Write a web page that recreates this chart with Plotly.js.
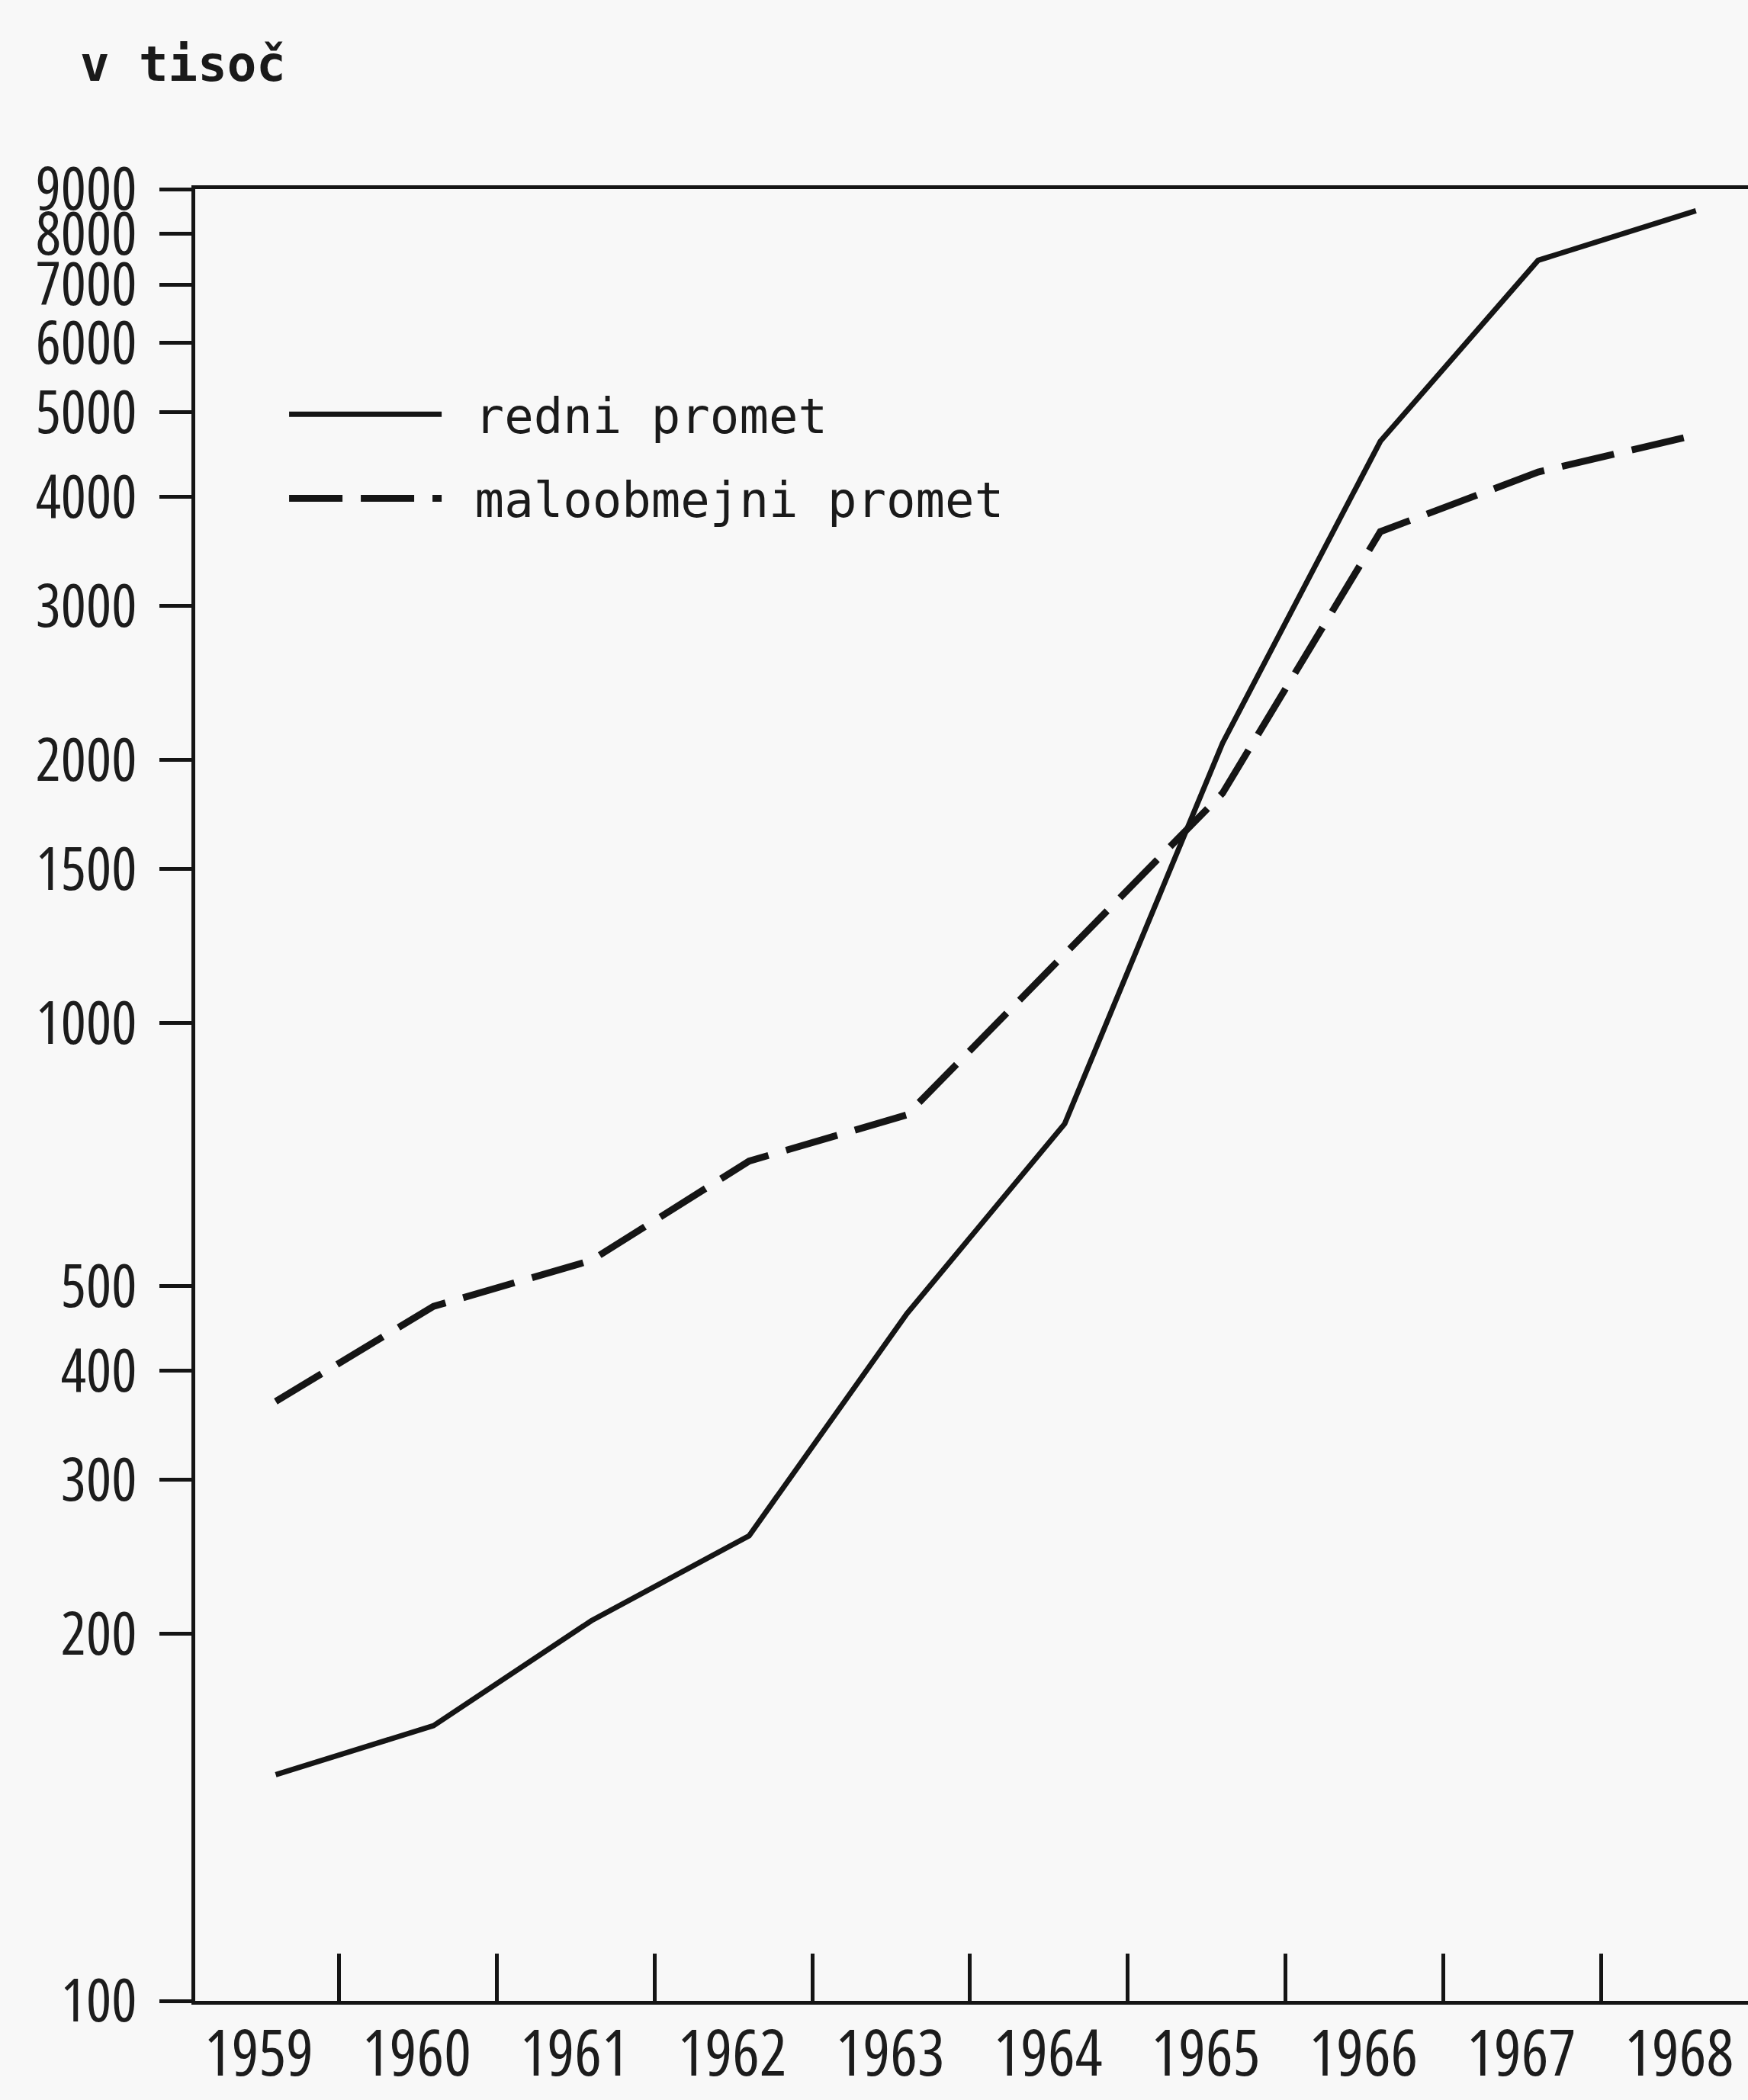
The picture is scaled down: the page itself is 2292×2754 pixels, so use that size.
<!DOCTYPE html>
<html>
<head>
<meta charset="utf-8">
<script src="https://cdn.plot.ly/plotly-3.0.1.min.js"></script>
<style>
  html, body { margin: 0; padding: 0; background: #f8f8f8; }
  #chart { width: 2292px; height: 2754px; }
  .xtick text, .ytick text { font-stretch: 75%; }
</style>
</head>
<body>
<div id="chart"></div>
<script>
// ---- data (v tisoč) ----
const years = [1959, 1960, 1961, 1962, 1963, 1964, 1965, 1966, 1967, 1968];
const redniPromet = [138, 157, 207, 259, 465, 767, 2090, 4630, 7460, 8500];
const maloobmejniPromet = [369, 474, 535, 695, 785, 1202, 1832, 3650, 4270, 4710];

const seriesNames = ['redni promet', 'maloobmejni promet'];
const yTickLabels = ['100', '200', '300', '400', '500', '1000', '1500', '2000',
                     '3000', '4000', '5000', '6000', '7000', '8000', '9000'];
const yTickNumbers = [100, 200, 300, 400, 500, 1000, 1500, 2000,
                      3000, 4000, 5000, 6000, 7000, 8000, 9000];
const xTickLabels = ['1959', '1960', '1961', '1962', '1963', '1964', '1965', '1966', '1967', '1968'];

// ---- axis geometry ----
// the original log scale runs 200..9000; "100" is written at the baseline (scale break)
const yRange = [1.881, Math.log10(9000)];
const yTickVals = yTickNumbers.map(v => v === 100 ? Math.pow(10, yRange[0]) : v);
const xRange = [1958.49, 1968.33];
const xBoundaryTicks = years.slice(0, -1).map(y => y + 0.4);

const ink = '#151515';
const labelFamily = 'Open Sans, Liberation Sans, sans-serif';

const traces = [
  {
    x: years, y: redniPromet, name: '\u2002' + seriesNames[0], type: 'scatter', mode: 'lines',
    legendgroup: 'a',
    line: { color: ink, width: 7, dash: 'solid' }
  },
  {
    x: years, y: maloobmejniPromet, name: '\u2002' + seriesNames[1], type: 'scatter', mode: 'lines',
    legendgroup: 'b',
    line: { color: ink, width: 9, dash: '70px,24px' }
  }
];

const layout = {
  width: 2292, height: 2754,
  paper_bgcolor: '#f8f8f8', plot_bgcolor: '#f8f8f8',
  margin: { l: 256, r: 0, t: 248, b: 130, pad: 0 },
  title: {
    text: 'v tisoč',
    font: { family: 'DejaVu Sans Mono, monospace', size: 64, color: '#1a1a1a', weight: 'bold' },
    xref: 'container', yref: 'container',
    x: 105 / 2292, xanchor: 'left',
    y: 1 - 84 / 2754, yanchor: 'middle'
  },
  showlegend: true,
  legend: {
    x: 0.058, xanchor: 'left', y: 0.896, yanchor: 'top',
    bgcolor: 'rgba(0,0,0,0)', borderwidth: 0,
    font: { family: 'DejaVu Sans Mono, monospace', size: 64, color: '#1a1a1a' },
    itemwidth: 200,
    tracegroupgap: 24
  },
  xaxis: {
    type: 'linear', range: xRange,
    showgrid: false, zeroline: false,
    showline: true, linecolor: ink, linewidth: 5, mirror: true,
    tickmode: 'array', tickvals: years, ticktext: xTickLabels,
    ticks: '', ticklabelstandoff: -8, ticklabelshift: -22,
    ticklabeloverflow: 'allow',
    tickfont: { family: labelFamily, size: 84, color: '#1c1c1c' },
    minor: { tickmode: 'array', tickvals: xBoundaryTicks, ticks: 'inside', ticklen: 62, tickwidth: 5, tickcolor: ink, showgrid: false }
  },
  yaxis: {
    type: 'log', range: yRange,
    showgrid: false, zeroline: false,
    showline: true, linecolor: ink, linewidth: 5,
    tickmode: 'array', tickvals: yTickVals, ticktext: yTickLabels,
    ticks: 'outside', ticklen: 42, tickwidth: 5, tickcolor: ink,
    ticklabelstandoff: 14,
    tickfont: { family: labelFamily, size: 78, color: '#1c1c1c' }
  }
};

Plotly.newPlot('chart', traces, layout, { staticPlot: true, displayModeBar: false });
</script>
</body>
</html>
